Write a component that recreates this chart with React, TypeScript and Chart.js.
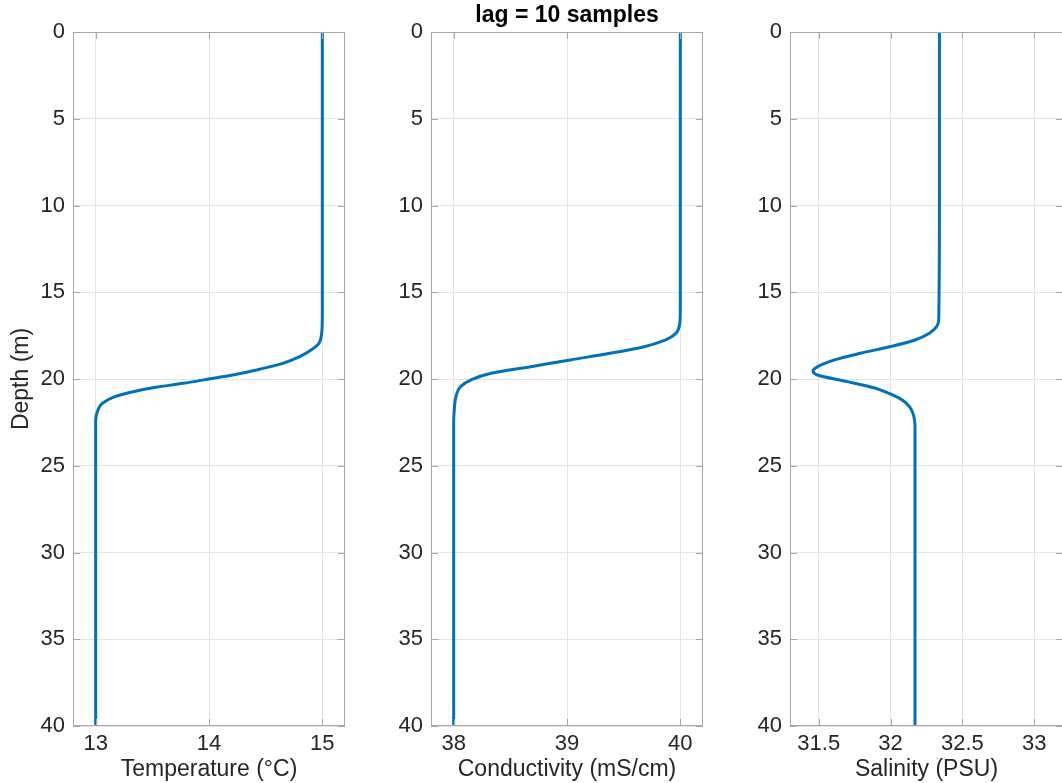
import React, { useEffect, useRef } from 'react';
import { Chart, registerables } from 'chart.js';

Chart.register(...registerables);

// ---------- data ----------
const depthTicks = [0, 5, 10, 15, 20, 25, 30, 35, 40];

const tempDepth = [0, 10, 16, 17, 17.37, 17.94, 18.33, 18.71, 19.1, 19.48, 19.77, 20.0, 20.25, 20.48, 20.73, 21.02, 21.4, 21.79, 22.36, 23, 30, 40];
const tempValues = [15, 15, 15, 14.998, 14.994, 14.97, 14.9, 14.8, 14.65, 14.42, 14.21, 14.0, 13.77, 13.53, 13.33, 13.17, 13.06, 13.02, 13.0, 13.0, 13.0, 13.0];
const tempTicks = [13, 14, 15];

const condDepth = [0, 10, 16, 16.79, 17.37, 17.75, 18.14, 18.52, 18.9, 19.29, 19.67, 20.06, 20.44, 21.02, 21.79, 22.5, 30, 40];
const condValues = [40, 40, 40, 39.995, 39.96, 39.87, 39.68, 39.38, 39.03, 38.68, 38.33, 38.15, 38.06, 38.02, 38.005, 38.0, 38.0, 38.0];
const condTicks = [38, 39, 40];

const salDepth = [0, 10, 16.6, 16.98, 17.36, 17.75, 18.13, 18.52, 18.9, 19.3, 19.53, 19.77, 20.15, 20.52, 20.8, 21.1, 21.4, 21.7, 22.1, 22.7, 30, 40];
const salValues = [32.34, 32.34, 32.335, 32.32, 32.27, 32.17, 32.0, 31.79, 31.61, 31.49, 31.46, 31.49, 31.7, 31.89, 31.98, 32.06, 32.11, 32.14, 32.16, 32.17, 32.17, 32.17];
const salTicks = [31.5, 32, 32.5, 33];

// ---------- style ----------
const FONT = "'Liberation Sans', Helvetica, Arial, sans-serif";
const TEXT = '#262626';
const BOX = '#a8a8a8';
const GRID = '#e4e4e4';
const LINE = '#0072BD';

const matlabBox = {
  id: 'matlabBox',
  afterDraw(chart: any) {
    const { ctx, chartArea: a, scales } = chart;
    ctx.save();
    ctx.strokeStyle = BOX;
    ctx.lineWidth = 1;
    ctx.strokeRect(a.left + 0.5, a.top + 0.5, a.right - a.left - 1, a.bottom - a.top - 1);
    ctx.beginPath();
    const L = 7;
    scales.x.ticks.forEach((t: any) => {
      const px = Math.round(scales.x.getPixelForValue(t.value)) + 0.5;
      ctx.moveTo(px, a.top);
      ctx.lineTo(px, a.top + L);
      ctx.moveTo(px, a.bottom);
      ctx.lineTo(px, a.bottom - L);
    });
    scales.y.ticks.forEach((t: any) => {
      const py = Math.round(scales.y.getPixelForValue(t.value)) + 0.5;
      ctx.moveTo(a.left, py);
      ctx.lineTo(a.left + L, py);
      ctx.moveTo(a.right, py);
      ctx.lineTo(a.right - L, py);
    });
    ctx.stroke();
    ctx.restore();
  },
};

type PanelProps = {
  left: number;
  width: number;
  padRight: number;
  depth: number[];
  values: number[];
  xMin: number;
  xMax: number;
  xTicks: number[];
  xTitle: string;
  yTitle?: string;
  title?: string;
};

function Panel(p: PanelProps) {
  const ref = useRef<HTMLCanvasElement>(null);
  useEffect(() => {
    if (!ref.current) return;
    const data = p.depth.map((d, i) => ({ x: p.values[i], y: d }));
    const chart = new Chart(ref.current, {
      type: 'line',
      data: {
        datasets: [
          {
            data,
            borderColor: LINE,
            borderWidth: 3,
            pointRadius: 0,
            fill: false,
            cubicInterpolationMode: 'monotone',
          } as any,
        ],
      },
      plugins: [matlabBox],
      options: {
        animation: false,
        responsive: false,
        indexAxis: 'y',
        layout: { padding: { top: p.title ? 0 : 32, left: 0, right: p.padRight, bottom: 0 } },
        plugins: {
          legend: { display: false },
          tooltip: { enabled: false },
          title: p.title
            ? {
                display: true,
                text: p.title,
                fullSize: false,
                color: '#000',
                font: { family: FONT, size: 23, weight: 'bold' },
                padding: { top: 2, bottom: 2.4 },
              }
            : { display: false },
        },
        scales: {
          x: {
            type: 'linear',
            position: 'bottom',
            min: p.xMin,
            max: p.xMax,
            afterBuildTicks: (s: any) => {
              s.ticks = p.xTicks.map((v) => ({ value: v }));
            },
            afterFit: (s: any) => {
              s.height = 57;
            },
            grid: { color: GRID, drawTicks: false },
            border: { display: false },
            ticks: {
              color: TEXT,
              padding: 5,
              maxRotation: 0,
              autoSkip: false,
              font: { family: FONT, size: 22 },
              callback: (v: any) => String(v),
            },
            title: {
              display: true,
              text: p.xTitle,
              color: TEXT,
              font: { family: FONT, size: 23 },
              padding: { top: 0, bottom: 0 },
            },
          },
          y: {
            type: 'linear',
            position: 'left',
            reverse: true,
            min: 0,
            max: 40,
            afterBuildTicks: (s: any) => {
              s.ticks = depthTicks.map((v) => ({ value: v }));
            },
            afterFit: (s: any) => {
              s.width = 73;
            },
            grid: { color: GRID, drawTicks: false },
            border: { display: false },
            ticks: {
              color: TEXT,
              padding: 8,
              autoSkip: false,
              font: { family: FONT, size: 22 },
              callback: (v: any) => String(v),
            },
            title: p.yTitle
              ? {
                  display: true,
                  text: p.yTitle,
                  color: TEXT,
                  font: { family: FONT, size: 23 },
                  padding: { top: 8, bottom: 0 },
                }
              : { display: false },
          },
        },
      } as any,
    });
    return () => chart.destroy();
  }, []);
  return (
    <canvas
      ref={ref}
      width={p.width}
      height={783}
      style={{ position: 'absolute', left: p.left, top: 0, width: p.width, height: 783 }}
    />
  );
}

export default function App() {
  return (
    <div
      style={{
        position: 'absolute',
        left: 0,
        top: 0,
        width: 1062,
        height: 783,
        overflow: 'hidden',
        background: '#fff',
      }}
    >
      <Panel
        left={0}
        width={350}
        padRight={5}
        depth={tempDepth}
        values={tempValues}
        xMin={12.8}
        xMax={15.2}
        xTicks={tempTicks}
        xTitle="Temperature (°C)"
        yTitle="Depth (m)"
      />
      <Panel
        left={358}
        width={350}
        padRight={5}
        depth={condDepth}
        values={condValues}
        xMin={37.8}
        xMax={40.2}
        xTicks={condTicks}
        xTitle="Conductivity (mS/cm)"
        title="lag = 10 samples"
      />
      <Panel
        left={717}
        width={349}
        padRight={3}
        depth={salDepth}
        values={salValues}
        xMin={31.3}
        xMax={33.2}
        xTicks={salTicks}
        xTitle="Salinity (PSU)"
      />
    </div>
  );
}
